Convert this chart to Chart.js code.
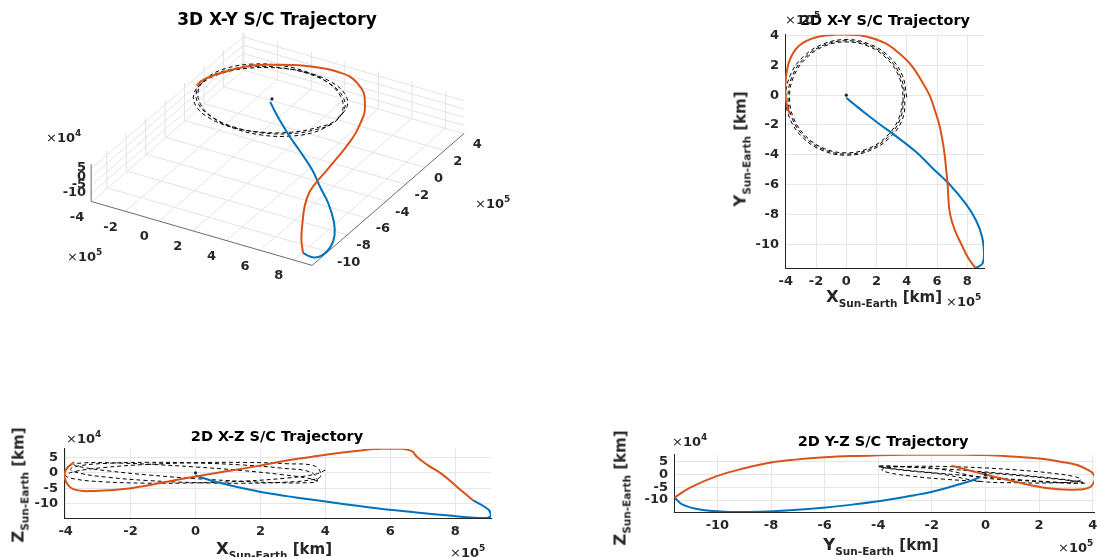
<!DOCTYPE html>
<html>
<head>
<meta charset="utf-8">
<script src="https://cdn.jsdelivr.net/npm/chart.js@4.4.1/dist/chart.umd.min.js"></script>
<style>
  body { margin: 0; width: 1097px; height: 557px; overflow: hidden; position: relative; background: #fff; font-family: 'DejaVu Sans', sans-serif; }
  canvas { position: absolute; }
  .t { position: absolute; transform: translate(-50%, -50%); font-weight: bold; white-space: nowrap; color: #000; }
  .t2 { font-size: 14.5px; }
  .t3 { font-size: 17px; }
  .e { position: absolute; transform: translateY(-50%); font-weight: bold; font-size: 13px; color: #262626; white-space: nowrap; }
  .e .m { font-weight: normal; }
  .e sup { font-size: 9px; vertical-align: 6px; }
  .lab { position: absolute; font-weight: bold; color: #262626; white-space: nowrap; font-size: 15px; }
  .lab .v { font-size: 16.5px; }
  .lab .s { font-size: 10.5px; position: relative; top: 5px; }
  .hz { transform: translate(-50%, -50%); }
  .vt { transform: translate(-50%, -50%) rotate(-90deg); }
</style>
</head>
<body>
<canvas id="c3d"></canvas>
<canvas id="cxy"></canvas>
<canvas id="cxz"></canvas>
<canvas id="cyz"></canvas>

<div class="t t3" style="left:277px;top:19px">3D X-Y S/C Trajectory</div>
<div class="e" style="left:46px;top:136px"><span class="m">×</span>10<sup>4</sup></div>
<div class="e" style="left:67px;top:255px"><span class="m">×</span>10<sup>5</sup></div>
<div class="e" style="left:475px;top:202px"><span class="m">×</span>10<sup>5</sup></div>

<div class="t t2" style="left:885px;top:20px">2D X-Y S/C Trajectory</div>
<div class="e" style="left:785px;top:18px"><span class="m">×</span>10<sup>5</sup></div>
<div class="lab vt" style="left:740px;top:149px"><span class="v">Y</span><span class="s">Sun-Earth</span> [km]</div>
<div class="lab hz" style="left:884px;top:296px"><span class="v">X</span><span class="s">Sun-Earth</span> [km]</div>
<div class="e" style="left:946px;top:300px"><span class="m">×</span>10<sup>5</sup></div>

<div class="t t2" style="left:277px;top:436px">2D X-Z S/C Trajectory</div>
<div class="e" style="left:66px;top:437px"><span class="m">×</span>10<sup>4</sup></div>
<div class="lab vt" style="left:18px;top:485px"><span class="v">Z</span><span class="s">Sun-Earth</span> [km]</div>
<div class="lab hz" style="left:274px;top:548px"><span class="v">X</span><span class="s">Sun-Earth</span> [km]</div>
<div class="e" style="left:450px;top:551px"><span class="m">×</span>10<sup>5</sup></div>

<div class="t t2" style="left:883px;top:441px">2D Y-Z S/C Trajectory</div>
<div class="e" style="left:672px;top:440px"><span class="m">×</span>10<sup>4</sup></div>
<div class="lab vt" style="left:620px;top:488px"><span class="v">Z</span><span class="s">Sun-Earth</span> [km]</div>
<div class="lab hz" style="left:881px;top:544px"><span class="v">Y</span><span class="s">Sun-Earth</span> [km]</div>
<div class="e" style="left:1058px;top:546px"><span class="m">×</span>10<sup>5</sup></div>

<script>
'use strict';

//////////////////////
// data (x, y in 1e5 km, z in 1e4 km)
//////////////////////

// blue leg: from near Earth out to the far point
const outboundX = [0.00, 0.50, 1.32, 2.20, 3.08, 4.60, 5.70, 6.80, 7.90, 8.57, 8.97, 9.10, 9.00, 8.55];
const outboundY = [-0.18, -0.60, -1.27, -1.95, -2.60, -3.80, -4.90, -5.96, -7.30, -8.40, -9.50, -10.60, -11.30, -11.60];
const outboundZ = [-0.9, -2.6, -4.7, -6.6, -8.0, -10.2, -11.7, -12.9, -14.0, -14.6, -14.7, -13.8, -11.8, -9.0];

// orange leg: back round to the orbit
const returnX = [8.55, 8.10, 7.60, 7.15, 6.86, 6.75, 6.70, 6.60, 6.50, 6.35, 6.15, 5.85, 5.50, 4.95, 4.30, 3.45, 2.64, 1.80, 0.90, -0.44, -1.98, -3.10, -3.74, -4.00, -4.00, -3.74];
const returnY = [-11.60, -11.00, -10.00, -9.00, -8.00, -7.00, -6.00, -5.00, -4.00, -3.00, -2.00, -1.00, 0.00, 1.00, 2.00, 2.85, 3.45, 3.80, 4.02, 4.08, 3.88, 3.33, 2.35, 1.03, -0.29, -1.27];
const returnZ = [-9.0, -5.0, -0.5, 2.5, 4.8, 6.0, 6.8, 7.3, 7.6, 7.8, 7.9, 7.85, 7.7, 7.1, 6.3, 5.0, 3.7, 2.0, 0.4, -2.0, -5.0, -5.9, -5.4, -2.6, 0.8, 3.5];

// black dashed orbit, three loops
const orbitX = [
  4.00, 3.70, 2.83, 1.53, 0.00, -1.53, -2.83, -3.70, -4.00, -3.70, -2.83, -1.53, 0.00, 1.53, 2.83, 3.70,
  3.85, 3.56, 2.72, 1.47, 0.00, -1.47, -2.72, -3.56, -3.85, -3.56, -2.72, -1.47, 0.00, 1.47, 2.72, 3.56,
  3.75, 3.47, 2.65, 1.44, 0.00, -1.44, -2.65, -3.47, -3.75, -3.47, -2.65, -1.44, 0.00, 1.44, 2.65, 3.47, 3.75
];
const orbitY = [
  -0.15, 1.34, 2.59, 3.43, 3.73, 3.43, 2.59, 1.34, -0.15, -1.64, -2.89, -3.73, -4.03, -3.73, -2.89, -1.64,
  -0.15, 1.31, 2.54, 3.36, 3.65, 3.36, 2.54, 1.31, -0.15, -1.61, -2.84, -3.66, -3.95, -3.66, -2.84, -1.61,
  -0.15, 1.27, 2.48, 3.29, 3.57, 3.29, 2.48, 1.27, -0.15, -1.57, -2.78, -3.59, -3.87, -3.59, -2.78, -1.57, -0.15
];
const orbitZ = [
  0.88, -0.45, -1.70, -2.69, -3.28, -3.37, -2.94, -2.07, -0.88, 0.45, 1.70, 2.69, 3.28, 3.37, 2.94, 2.07,
  -1.16, -2.30, -3.08, -3.40, -3.20, -2.52, -1.44, -0.16, 1.16, 2.30, 3.08, 3.40, 3.20, 2.52, 1.44, 0.16,
  -2.70, -3.21, -3.25, -2.78, -1.89, -0.72, 0.57, 1.77, 2.70, 3.21, 3.25, 2.78, 1.89, 0.72, -0.57, -1.77, -2.70
];

const earthPos = [0, 0, 0];

// ticks and limits
const xTicks = [-4, -2, 0, 2, 4, 6, 8];
const yTicks = [-10, -8, -6, -4, -2, 0, 2, 4];
const zTicks = [-10, -5, 0, 5];
const xLim = [-4.05, 9.1];
const yLim = [-11.62, 4.05];
const zLim = [-14.7, 7.8];

//////////////////////
// styles
//////////////////////

const BLUE = '#0072BD';
const ORANGE = '#D95319';
const INK = '#262626';
const GRID = '#e6e6e6';
const TICK_FONT = { family: 'DejaVu Sans', size: 13, weight: 'bold' };

const paths = [
  { xs: returnX, ys: returnY, zs: returnZ, color: ORANGE, width: 2, dash: [] },
  { xs: outboundX, ys: outboundY, zs: outboundZ, color: BLUE, width: 2, dash: [] },
  { xs: orbitX, ys: orbitY, zs: orbitZ, color: '#000', width: 1, dash: [4, 3] }
];

//////////////////////
// helpers
//////////////////////

function datasetsFor(map) {
  const sets = [{
    data: [map(earthPos[0], earthPos[1], earthPos[2])],
    pointRadius: 1.6, backgroundColor: '#1b1f4d', borderWidth: 0, showLine: false
  }];
  for (let p of paths) {
    sets.push({
      data: p.xs.map((x, i) => map(x, p.ys[i], p.zs[i])),
      showLine: true,
      borderColor: p.color,
      borderWidth: p.width,
      borderDash: p.dash,
      pointRadius: 0,
      tension: 0.4
    });
  }
  return sets;
}

function axis(lim, ticks, dir) {
  return {
    type: 'linear',
    bounds: 'data',
    min: lim[0],
    max: lim[1],
    afterBuildTicks: s => { s.ticks = ticks.map(v => ({ value: v })); },
    afterFit: s => { if (dir === 'x') { s.height = 30; } else { s.width = 60; } },
    grid: { color: GRID, drawTicks: false },
    border: { color: INK, width: 1 },
    ticks: {
      font: TICK_FONT, color: INK, padding: 6,
      maxRotation: 0, autoSkip: false,
      callback: v => String(v)
    }
  };
}

// area = where the plot box sits on the page
function makePlot(id, area, uLim, vLim, uTicks, vTicks, map) {
  const cv = document.getElementById(id);
  const padL = 60, padT = 10, padR = 12, padB = 30;
  cv.width = area.w + padL + padR;
  cv.height = area.h + padT + padB;
  cv.style.left = (area.left - padL) + 'px';
  cv.style.top = (area.top - padT) + 'px';
  return new Chart(cv, {
    type: 'scatter',
    data: { datasets: datasetsFor(map) },
    options: {
      responsive: false,
      animation: false,
      devicePixelRatio: 1,
      layout: { padding: { left: 0, top: padT, right: padR, bottom: 0 } },
      plugins: { legend: { display: false }, tooltip: { enabled: false } },
      scales: { x: axis(uLim, uTicks, 'x'), y: axis(vLim, vTicks, 'y') }
    }
  });
}

//////////////////////
// 3D view (orthographic, equal data aspect)
//////////////////////

const VIEW = { az: 30, el: 30.5, scale: 19.7, zScale: 0.1, ox: 272, oy: 97.5, w: 540, h: 300 };

function project(x, y, z) {
  const a = VIEW.az * Math.PI / 180;
  const e = VIEW.el * Math.PI / 180;
  const k = VIEW.scale;
  return {
    x: VIEW.ox + k * (Math.cos(a) * x + Math.sin(a) * y),
    y: VIEW.oy + k * (Math.sin(e) * (Math.sin(a) * x - Math.cos(a) * y) - Math.cos(e) * z * VIEW.zScale)
  };
}

function segments(list) {
  const pts = [];
  for (let s of list) {
    pts.push(project(...s[0]), project(...s[1]), { x: NaN, y: NaN });
  }
  return pts;
}

function gridLines3d() {
  const [x0, x1] = xLim, [y0, y1] = yLim, [z0, z1] = zLim;
  const list = [];
  for (let v of xTicks) {
    list.push([[v, y0, z0], [v, y1, z0]]);
    list.push([[v, y1, z0], [v, y1, z1]]);
  }
  for (let v of yTicks) {
    list.push([[x0, v, z0], [x1, v, z0]]);
    list.push([[x0, v, z0], [x0, v, z1]]);
  }
  for (let v of zTicks) {
    list.push([[x0, y0, v], [x0, y1, v]]);
    list.push([[x0, y1, v], [x1, y1, v]]);
  }
  return segments(list);
}

function axisLines3d() {
  const [x0, x1] = xLim, [y0, y1] = yLim, [z0, z1] = zLim;
  return segments([
    [[x0, y0, z0], [x1, y0, z0]],
    [[x1, y0, z0], [x1, y1, z0]],
    [[x0, y0, z0], [x0, y0, z1]]
  ]);
}

const tickLabels3d = {
  id: 'tickLabels3d',
  afterDatasetsDraw(chart) {
    const { ctx, scales } = chart;
    const px = p => ({ x: scales.x.getPixelForValue(p.x), y: scales.y.getPixelForValue(p.y) });
    ctx.save();
    ctx.font = 'bold 13px "DejaVu Sans"';
    ctx.fillStyle = INK;
    ctx.textBaseline = 'middle';
    ctx.textAlign = 'center';
    for (let v of xTicks) {
      const p = px(project(v, yLim[0], zLim[0]));
      ctx.fillText(String(v), p.x - 15, p.y + 16);
    }
    ctx.textAlign = 'left';
    for (let v of yTicks) {
      const p = px(project(xLim[1], v, zLim[0]));
      ctx.fillText(String(v), p.x + 9, p.y + 11);
    }
    ctx.textAlign = 'right';
    for (let v of zTicks) {
      const p = px(project(xLim[0], yLim[0], v));
      ctx.fillText(String(v), p.x - 5, p.y - 1);
    }
    ctx.restore();
  }
};

function make3d() {
  const cv = document.getElementById('c3d');
  cv.width = VIEW.w;
  cv.height = VIEW.h;
  cv.style.left = '0px';
  cv.style.top = '0px';
  const sets = datasetsFor(project);
  sets.push({
    data: axisLines3d(), showLine: true, borderColor: '#6b6b6b', borderWidth: 1,
    pointRadius: 0, tension: 0, spanGaps: false
  });
  sets.push({
    data: gridLines3d(), showLine: true, borderColor: '#e3e3e3', borderWidth: 1,
    pointRadius: 0, tension: 0, spanGaps: false
  });
  new Chart(cv, {
    type: 'scatter',
    data: { datasets: sets },
    options: {
      responsive: false,
      animation: false,
      devicePixelRatio: 1,
      layout: { padding: 0 },
      plugins: { legend: { display: false }, tooltip: { enabled: false } },
      scales: {
        x: { type: 'linear', display: false, min: 0, max: VIEW.w },
        y: { type: 'linear', display: false, min: 0, max: VIEW.h, reverse: true }
      }
    },
    plugins: [tickLabels3d]
  });
}

//////////////////////
// Start
//////////////////////

make3d();
makePlot('cxy', { left: 785, top: 31, w: 199, h: 237 }, xLim, [-11.6, 4.05], xTicks, yTicks, (x, y, z) => ({ x: x, y: y }));
makePlot('cxz', { left: 64, top: 445, w: 427, h: 73 }, xLim, zLim, xTicks, zTicks, (x, y, z) => ({ x: x, y: z }));
makePlot('cyz', { left: 674, top: 451, w: 420, h: 61 }, yLim, zLim, yTicks, zTicks, (x, y, z) => ({ x: y, y: z }));
</script>
</body>
</html>
